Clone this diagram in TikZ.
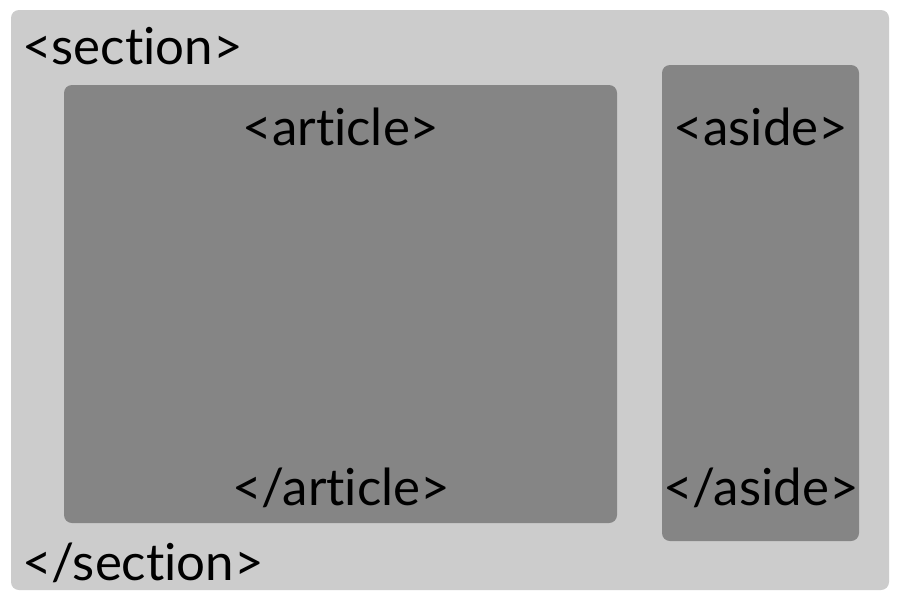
\documentclass[tikz,border=0pt]{standalone}
\usepackage{fontspec}
\setmainfont{Lato}[Ligatures={NoCommon,NoRare}]
\definecolor{outerg}{HTML}{CCCCCC}
\definecolor{innerg}{HTML}{858585}
\begin{document}
\begin{tikzpicture}[x=1pt,y=-1pt,
  box/.style={rounded corners=8pt},
  tag/.style={inner sep=0pt,font=\fontsize{51}{59}\selectfont,text=black}]
\useasboundingbox[fill=white] (0,0) rectangle (900,600);
\fill[outerg,box] (11,10) rectangle (889,590);
\fill[innerg,box] (64,85) rectangle (617,523);
\fill[innerg,box] (662,65) rectangle (859,541);
\node[tag,anchor=base west] (sec) at (22,64) {<section>};
\node[tag,anchor=base west] (esec) at (22,580) {</section>};
\node[tag,anchor=base] (art) at (341,145) {<article>};
\node[tag,anchor=base] (eart) at (341,505) {</article>};
\node[tag,anchor=base] (asd) at (761,145) {<aside>};
\node[tag,anchor=base] (easd) at (761,505) {</aside>};
\end{tikzpicture}
\end{document}
